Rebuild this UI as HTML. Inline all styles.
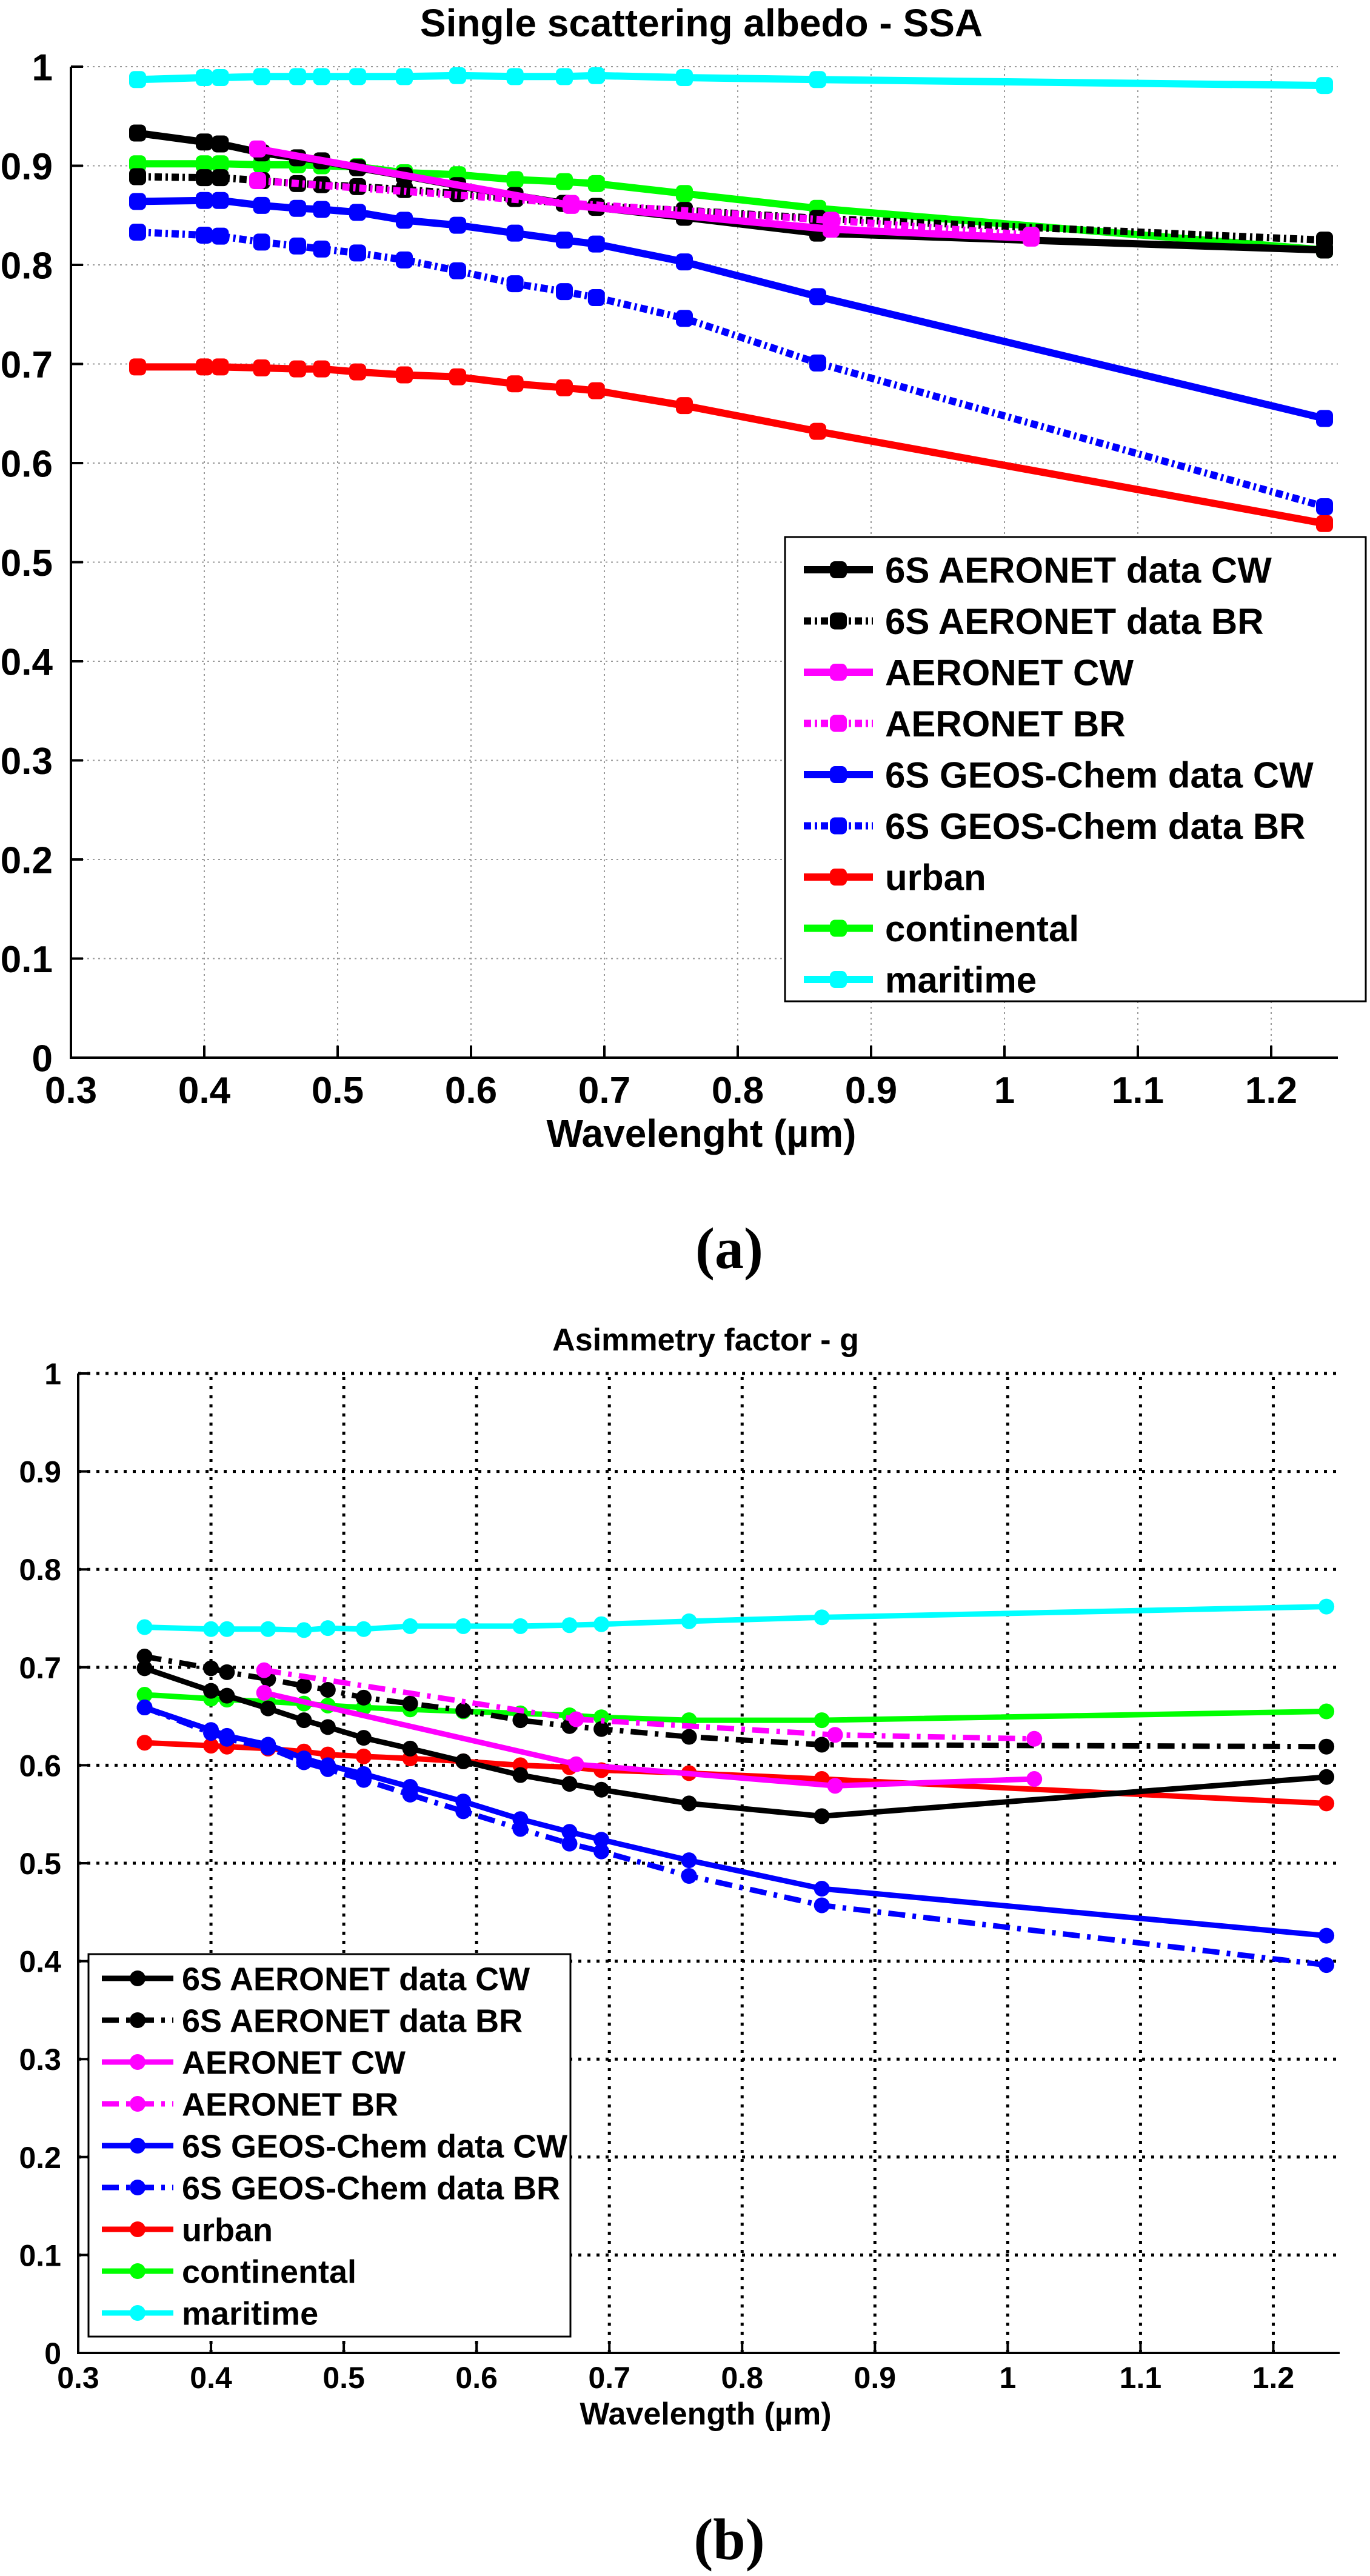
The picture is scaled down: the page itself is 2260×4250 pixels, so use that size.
<!DOCTYPE html>
<html><head><meta charset="utf-8">
<style>
html,body{margin:0;padding:0;background:#fff;}
svg{display:block;}
text{font-family:"Liberation Sans",Arial,sans-serif;font-weight:bold;fill:#000;}
</style></head>
<body>
<svg id="fig" width="2260" height="4250" viewBox="0 0 2260 4250" xmlns="http://www.w3.org/2000/svg">
<rect width="2260" height="4250" fill="#fff"/>
</svg>
<script>
// ---------- shared data ----------
const wl6S = [0.35,0.40,0.412,0.443,0.47,0.488,0.515,0.55,0.59,0.633,0.67,0.694,0.76,0.86,1.24];
const wlAER = [0.44,0.675,0.87,1.02];
const xTicks = [0.3,0.4,0.5,0.6,0.7,0.8,0.9,1,1.1,1.2];
const yTicks = [0,0.1,0.2,0.3,0.4,0.5,0.6,0.7,0.8,0.9,1];
const legendLabels = ["6S AERONET data CW","6S AERONET data BR","AERONET CW","AERONET BR","6S GEOS-Chem data CW","6S GEOS-Chem data BR","urban","continental","maritime"];
const seriesColors = ["#000","#000","#ff00ff","#ff00ff","#0000ff","#0000ff","#ff0000","#00ff00","#00ffff"];

// ---------- SSA (a) ----------
const ssa6sCW  = [0.933,0.924,0.922,0.913,0.908,0.905,0.898,0.890,0.880,0.870,0.862,0.858,0.848,0.832,0.815];
const ssa6sBR  = [0.889,0.888,0.888,0.885,0.882,0.881,0.879,0.876,0.872,0.867,0.862,0.859,0.855,0.847,0.825];
const ssaAerCW = [0.917,0.860,0.836,0.827];
const ssaAerBR = [0.885,0.862,0.845,0.830];
const ssaGeoCW = [0.864,0.865,0.865,0.860,0.857,0.856,0.853,0.845,0.840,0.832,0.825,0.821,0.803,0.768,0.645];
const ssaGeoBR = [0.833,0.830,0.829,0.823,0.819,0.816,0.812,0.805,0.794,0.781,0.773,0.767,0.746,0.701,0.556];
const ssaUrban = [0.697,0.697,0.697,0.696,0.695,0.695,0.692,0.689,0.687,0.680,0.676,0.673,0.658,0.632,0.539];
const ssaCont  = [0.902,0.902,0.902,0.901,0.901,0.900,0.899,0.893,0.891,0.886,0.884,0.882,0.872,0.857,0.815];
const ssaMar   = [0.987,0.989,0.989,0.990,0.990,0.990,0.990,0.990,0.991,0.990,0.990,0.991,0.989,0.987,0.981];

// ---------- g (b) ----------
const g6sCW  = [0.699,0.676,0.671,0.658,0.646,0.639,0.628,0.617,0.604,0.590,0.581,0.575,0.561,0.548,0.588];
const g6sBR  = [0.711,0.699,0.695,0.688,0.681,0.677,0.669,0.663,0.656,0.646,0.640,0.637,0.629,0.621,0.619];
const gAerCW = [0.674,0.601,0.579,0.586];
const gAerBR = [0.697,0.647,0.631,0.627];
const gGeoCW = [0.659,0.636,0.630,0.621,0.607,0.600,0.591,0.578,0.563,0.545,0.532,0.524,0.503,0.474,0.426];
const gGeoBR = [0.659,0.633,0.627,0.618,0.603,0.596,0.585,0.570,0.553,0.535,0.520,0.512,0.487,0.457,0.396];
const gUrban = [0.623,0.620,0.619,0.617,0.614,0.611,0.609,0.607,0.604,0.600,0.598,0.595,0.592,0.586,0.561];
const gCont  = [0.672,0.668,0.667,0.665,0.663,0.661,0.659,0.657,0.655,0.653,0.651,0.649,0.646,0.646,0.655];
const gMar   = [0.741,0.739,0.739,0.739,0.738,0.740,0.739,0.742,0.742,0.742,0.743,0.744,0.747,0.751,0.762];

const NS = "http://www.w3.org/2000/svg";
const svg = document.getElementById('fig');
function mk(tag, attrs, parent){
  const e = document.createElementNS(NS, tag);
  for (const k in attrs) e.setAttribute(k, attrs[k]);
  (parent||svg).appendChild(e);
  return e;
}

function drawChart(cfg){
  const g = mk('g', {});
  
  
  const xs = v => cfg.x0 + (v - 0.3) / 0.95 * (cfg.x1 - cfg.x0);
  const ys = v => cfg.y0 - v * (cfg.y0 - cfg.y1);
  xTicks.forEach(t => {
    if (t > 0.3) { const l = mk('line', {x1:xs(t),x2:xs(t),y1:cfg.y0,y2:cfg.y1,stroke:cfg.gridColor,'stroke-width':cfg.gridW,'stroke-dasharray':cfg.gridDash}, g);
        }
  });
  yTicks.forEach(t => {
    if (t > 0) { const l = mk('line', {x1:cfg.x0,x2:cfg.x1,y1:ys(t),y2:ys(t),stroke:cfg.gridColor,'stroke-width':cfg.gridW,'stroke-dasharray':cfg.gridDash}, g);
        }
  });
  const ax = mk('path', {d:`M${cfg.x0},${cfg.y1} L${cfg.x0},${cfg.y0} L${cfg.x1},${cfg.y0}`, fill:'none', stroke:'#000','stroke-width':4}, g);
   
  xTicks.forEach(t => {
    mk('line', {x1:xs(t),x2:xs(t),y1:cfg.y0,y2:cfg.y0-20,stroke:'#000','stroke-width':4}, g);
    const tx = mk('text', {x:xs(t), y:cfg.xLabY, 'text-anchor':'middle','font-size':cfg.tickFont}, g);
    tx.textContent = String(t);
     
  });
  yTicks.forEach(t => {
    mk('line', {x1:cfg.x0,x2:cfg.x0+20,y1:ys(t),y2:ys(t),stroke:'#000','stroke-width':4}, g);
    const tx = mk('text', {x:cfg.x0-cfg.yLabGap, y:ys(t)+cfg.tickFont*0.36, 'text-anchor':'end','font-size':cfg.tickFont}, g);
    tx.textContent = String(t);
     
  });
  const ti = mk('text', {x:cfg.titleX, y:cfg.titleY, 'text-anchor':'middle','font-size':cfg.titleFont}, g);
  ti.textContent = cfg.title;
   
  const xt = mk('text', {x:cfg.titleX, y:cfg.xTitleY, 'text-anchor':'middle','font-size':cfg.titleFont}, g);
  xt.textContent = cfg.xTitle;
   
  const dashes = [null, cfg.brDash, null, cfg.brDash, null, cfg.brDash, null, null, null];
  const sx = [wl6S, wl6S, wlAER, wlAER, wl6S, wl6S, wl6S, wl6S, wl6S];
  const drawOrder = [8,7,6,5,4,1,0,3,2];
  drawOrder.forEach(i => {
    const vals = cfg.series[i];
    const sg = mk('g', {}, g);
    
    
    const pts = vals.map((v,k) => xs(sx[i][k]).toFixed(1) + ',' + ys(v).toFixed(1)).join(' ');
    const pl = mk('polyline', {points:pts, fill:'none', stroke:seriesColors[i], 'stroke-width':cfg.lineW, 'stroke-linejoin':'round'}, sg);
    if (dashes[i]) pl.setAttribute('stroke-dasharray', dashes[i]);
     
    vals.forEach((v,k) => {
      const m = cfg.markerSquare
        ? mk('rect', {x:xs(sx[i][k])-cfg.mk/2, y:ys(v)-cfg.mk/2, width:cfg.mk, height:cfg.mk, rx:cfg.mk*0.3, fill:seriesColors[i]}, sg)
        : mk('circle', {cx:xs(sx[i][k]), cy:ys(v), r:cfg.mk/2, fill:seriesColors[i]}, sg);
       
    });
  });
  const L = cfg.legend;
  const lg = mk('g', {}, g);
   
  mk('rect', {x:L.x, y:L.y, width:L.w, height:L.h, fill:'#fff', stroke:'#000','stroke-width':3}, lg);
  legendLabels.forEach((lab,i) => {
    const yy = L.first + i * L.step;
    const e = mk('g', {}, lg);
     
    const ln = mk('line', {x1:L.lx1, x2:L.lx2, y1:yy, y2:yy, stroke:seriesColors[i], 'stroke-width':cfg.lineW}, e);
    if (dashes[i]) ln.setAttribute('stroke-dasharray', dashes[i]);
    const mx = (L.lx1 + L.lx2) / 2;
    if (cfg.markerSquare) mk('rect', {x:mx-cfg.mk/2, y:yy-cfg.mk/2, width:cfg.mk, height:cfg.mk, rx:cfg.mk*0.3, fill:seriesColors[i]}, e);
    else mk('circle', {cx:mx, cy:yy, r:cfg.mk/2, fill:seriesColors[i]}, e);
    const t = mk('text', {x:L.tx, y:yy + L.font*0.36, 'font-size':L.font}, e);
    t.textContent = lab;
  });
}

drawChart({
  name:'ssa-chart', x0:117, x1:2207, y0:1745, y1:110,
  gridColor:'#999', gridW:2, gridDash:'3,6', tickFont:62, yLabGap:30, xLabY:1820,
  title:'Single scattering albedo - SSA', titleX:1157, titleY:60, titleFont:64,
  xTitle:'Wavelenght (\u00b5m)', xTitleY:1892,
  series:[ssa6sCW,ssa6sBR,ssaAerCW,ssaAerBR,ssaGeoCW,ssaGeoBR,ssaUrban,ssaCont,ssaMar],
  brDash:'12,6,4,6', lineW:12, mk:28, markerSquare:true,
  legend:{x:1295,y:886,w:958,h:766,first:940,step:84.5,lx1:1326,lx2:1440,tx:1460,font:60}
});

drawChart({
  name:'asymmetry-chart', x0:129, x1:2210, y0:3882, y1:2266,
  gridColor:'#000', gridW:5, gridDash:'5,10', tickFont:50, yLabGap:28, xLabY:3940,
  title:'Asimmetry factor - g', titleX:1164, titleY:2228, titleFont:52,
  xTitle:'Wavelength (\u00b5m)', xTitleY:4000,
  series:[g6sCW,g6sBR,gAerCW,gAerBR,gGeoCW,gGeoBR,gUrban,gCont,gMar],
  brDash:'28,12,6,12', lineW:9, mk:26, markerSquare:false,
  legend:{x:146,y:3224,w:795,h:631,first:3264,step:69,lx1:168,lx2:286,tx:300,font:54}
});

const la = mk('text', {x:1203, y:2092, 'text-anchor':'middle', 'font-size':96, style:'font-family:"Liberation Serif",serif;font-weight:bold'});
la.textContent = '(a)';


const lb = mk('text', {x:1203, y:4222, 'text-anchor':'middle', 'font-size':96, style:'font-family:"Liberation Serif",serif;font-weight:bold'});
lb.textContent = '(b)';


</script>
</body></html>
